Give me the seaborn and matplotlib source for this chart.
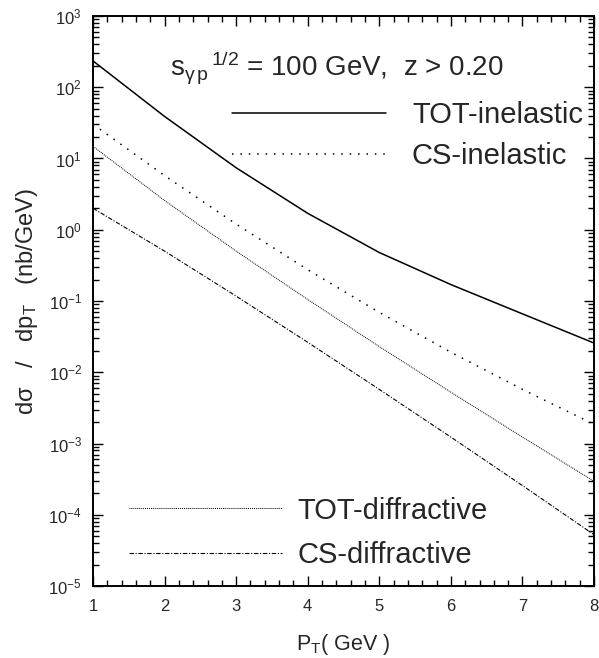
import numpy as np
import pandas as pd
import seaborn as sns
import matplotlib.pyplot as plt
from matplotlib.ticker import MultipleLocator, FixedLocator, LogLocator, NullFormatter

# values (dsigma/dpT in nb/GeV)
pt = [1, 2, 3, 4, 5, 6, 7, 8]
tot_inelastic = [234, 38.9, 7.41, 1.70, 0.479, 0.170, 0.066, 0.0257]
cs_inelastic = [30.2, 5.75, 1.20, 0.275, 0.0692, 0.0191, 0.00575, 0.00186]
tot_diffractive = [14.8, 2.57, 0.501, 0.105, 0.0229, 0.00525, 0.00123, 0.000295]
cs_diffractive = [2.0, 0.501, 0.117, 0.0263, 0.00575, 0.00123, 0.000257, 0.0000525]

labels = ['TOT-inelastic', 'CS-inelastic', 'TOT-diffractive', 'CS-diffractive']
series = [tot_inelastic, cs_inelastic, tot_diffractive, cs_diffractive]
y_ticks = [1e-5, 1e-4, 1e-3, 1e-2, 1e-1, 1e0, 1e1, 1e2, 1e3]

sns.set_style('ticks')
plt.rcParams['font.family'] = ['Liberation Sans', 'DejaVu Sans']
plt.rcParams['mathtext.fontset'] = 'custom'
plt.rcParams['mathtext.rm'] = 'Liberation Sans'
plt.rcParams['mathtext.it'] = 'Liberation Sans:italic'
plt.rcParams['mathtext.bf'] = 'Liberation Sans:bold'

fig = plt.figure(figsize=(5.99, 6.58), dpi=100)
ax = fig.add_axes([0.1553, 0.1094, 0.8364, 0.8663])

styles = [
    dict(lw=1.1, ls='-'),
    dict(lw=1.1, ls=(0, (1, 4.5))),
    dict(lw=0.7, ls=(0, (1, 1))),
    dict(lw=0.8, ls=(0, (4, 1.5, 1, 1.5))),
]

for lab, vals, st in zip(labels, series, styles):
    df = pd.DataFrame({'pt': pt, 'xs': vals})
    sns.lineplot(data=df, x='pt', y='xs', color='black', label=lab,
                 linewidth=st['lw'], linestyle=st['ls'], ax=ax)

ax.set_yscale('log')
ax.set_xlim(1, 8)
ax.set_ylim(1e-5, 1e3)

ax.xaxis.set_major_locator(FixedLocator(pt))
ax.xaxis.set_minor_locator(MultipleLocator(0.2))
ax.yaxis.set_major_locator(FixedLocator(y_ticks))
ax.yaxis.set_minor_locator(LogLocator(base=10, subs=np.arange(2, 10), numticks=20))
ax.yaxis.set_minor_formatter(NullFormatter())

ax.tick_params(which='both', direction='in', top=True, right=True,
               labelsize=12, color='black')
ax.tick_params(axis='x', pad=9.5)
ax.tick_params(axis='y', pad=8)
ax.tick_params(which='major', length=7, width=1.0)
ax.tick_params(which='minor', length=4.5, width=1.0)
for sp in ax.spines.values():
    sp.set_linewidth(1.4)
    sp.set_color('black')

ax.set_xlabel('P$_\\mathrm{T}$( GeV )', fontsize=15.5, labelpad=13)
ax.set_ylabel('d\u03c3   /   dp$_\\mathrm{T}$   (nb/GeV)', fontsize=17, labelpad=6)

ax.text(0.487, 0.91, 's$_{\\mathrm{\\gamma\\,p}}$$^{\\,1/2}$ = 100 GeV,  z > 0.20',
        transform=ax.transAxes, fontsize=20, ha='center', va='center')

handles, labs = ax.get_legend_handles_labels()
leg1 = ax.legend(handles[:2], labs[:2], loc='upper left',
                 bbox_to_anchor=(0.278, 0.850), frameon=False, fontsize=21,
                 handlelength=5.27, handletextpad=0.89, labelspacing=0.445,
                 borderpad=0, borderaxespad=0)
ax.add_artist(leg1)
ax.legend(handles[2:], labs[2:], loc='upper left',
          bbox_to_anchor=(0.0716, 0.157), frameon=False, fontsize=21,
          handlelength=5.24, handletextpad=0.55, labelspacing=0.58,
          borderpad=0, borderaxespad=0)

fig.savefig('out.png', dpi=100)
